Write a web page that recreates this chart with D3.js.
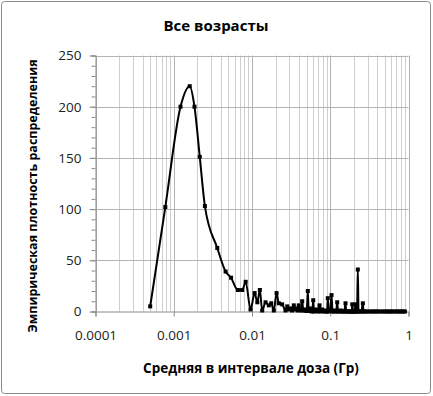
<!DOCTYPE html>
<html><head><meta charset="utf-8">
<script src="https://cdn.jsdelivr.net/npm/d3@7"></script>
<style>
html,body{margin:0;padding:0;background:#fff;}
svg{display:block;}
</style></head>
<body>
<script>
const title = "Все возрасты";
const xTitle = "Средняя в интервале доза (Гр)";
const yTitle = "Эмпирическая плотность распределения";
const xTickValues = [0.0001, 0.001, 0.01, 0.1, 1];
const xTickLabels = ["0.0001", "0.001", "0.01", "0.1", "1"];
const yTickValues = [0, 50, 100, 150, 200, 250];

const doses = [
  0.0005, 0.00078, 0.00122, 0.0016, 0.00184, 0.00215, 0.0025, 0.0036, 0.0046, 0.0054, 0.0066,
  0.0075, 0.0083, 0.0096, 0.0108, 0.0117, 0.0126, 0.0135, 0.0149, 0.0164, 0.0176,
  0.019, 0.0206, 0.022, 0.0243, 0.0268, 0.0282, 0.0295, 0.031, 0.0325, 0.0342,
  0.0356, 0.0371, 0.0383, 0.0396, 0.041, 0.0424, 0.0438, 0.0453, 0.0469, 0.0485,
  0.05, 0.0517, 0.053, 0.0548, 0.0563, 0.058, 0.0593, 0.0606, 0.062, 0.0643,
  0.0667, 0.069, 0.071, 0.0729, 0.075, 0.077, 0.0789, 0.082, 0.085, 0.088,
  0.091, 0.093, 0.096, 0.1, 0.1038, 0.107, 0.111, 0.115, 0.119, 0.1227,
  0.126, 0.131, 0.136, 0.141, 0.146, 0.151, 0.1567, 0.16, 0.166, 0.172,
  0.178, 0.184, 0.188, 0.191, 0.196, 0.2, 0.205, 0.21, 0.215, 0.22,
  0.225, 0.23, 0.24, 0.25, 0.261, 0.266, 0.275, 0.29, 0.31, 0.33,
  0.35, 0.37, 0.39, 0.41, 0.44, 0.47, 0.5, 0.53, 0.56, 0.59,
  0.62, 0.66, 0.7, 0.74, 0.78, 0.82, 0.86, 0.9
];
const density = [
  5, 102, 200, 220, 200, 151, 103, 62, 39, 33, 21,
  21, 29, 2, 18, 9, 21, 1, 9, 6, 8,
  1, 18, 8, 7, 1, 5, 2, 3, 1, 6,
  2, 3, 1, 6, 2, 1, 10, 1, 2, 1,
  0.5, 20, 0.5, 3, 1, 0, 2, 11, 0, 1,
  2, 0, 1, 6, 0, 1, 2, 0, 1, 0,
  0, 13, 0, 1, 16, 0, 0, 1, 0, 9,
  0, 0, 1, 0, 0, 0, 8, 0, 0, 0,
  0, 0, 0, 7, 0, 0, 0, 7, 0, 0,
  41, 0, 0, 0, 8, 0, 0, 0, 0, 0,
  0, 0, 0, 0, 0, 0, 0, 0, 0, 0,
  0, 0, 0, 0, 0, 0, 0, 0
];

const W = 433, H = 396;
const svg = d3.select("body").append("svg").attr("width", W).attr("height", H);

// outer border
svg.append("rect").attr("x", 1.5).attr("y", 1.5).attr("width", W - 4).attr("height", H - 4)
  .attr("rx", 3).attr("fill", "#fff").attr("stroke", "#8a8a8a").attr("stroke-width", 1);

const x = d3.scaleLog().domain([0.0001, 1]).range([95.5, 408.5]);
const y = d3.scaleLinear().domain([0, 250]).range([311.5, 55.5]);

const font = "'Open Sans', 'DejaVu Sans', sans-serif";

// minor vertical gridlines
const minorX = [];
for (let e = -4; e < 0; e++) for (let m = 2; m <= 9; m++) minorX.push(m * Math.pow(10, e));
svg.append("g").selectAll("line").data(minorX).join("line")
  .attr("x1", d => Math.round(x(d)) + 0.5).attr("x2", d => Math.round(x(d)) + 0.5)
  .attr("y1", y(250)).attr("y2", y(0))
  .attr("stroke", "#cfcfcf").attr("stroke-width", 1);
// major vertical gridlines
svg.append("g").selectAll("line").data(xTickValues).join("line")
  .attr("x1", d => Math.round(x(d)) + 0.5).attr("x2", d => Math.round(x(d)) + 0.5)
  .attr("y1", y(250)).attr("y2", y(0))
  .attr("stroke", "#b3b3b3").attr("stroke-width", 1);
// horizontal gridlines
svg.append("g").selectAll("line").data(yTickValues.slice(1)).join("line")
  .attr("x1", x(0.0001)).attr("x2", x(1))
  .attr("y1", d => Math.round(y(d)) + 0.5).attr("y2", d => Math.round(y(d)) + 0.5)
  .attr("stroke", "#b3b3b3").attr("stroke-width", 1);

// y axis
const yMinor = d3.range(0, 251, 10);
const yAxis = d3.axisLeft(y).tickValues(yMinor).tickSize(4).tickFormat("");
const yg = svg.append("g").attr("transform", `translate(${x(0.0001)},0)`).call(yAxis);
yg.selectAll("path,line").attr("stroke", "#8a8a8a");
const yAxisMajor = d3.axisLeft(y).tickValues(yTickValues).tickSize(6).tickPadding(8);
const yg2 = svg.append("g").attr("transform", `translate(${x(0.0001)},0)`).call(yAxisMajor);
yg2.select(".domain").remove();
yg2.selectAll("line").attr("stroke", "#8a8a8a");
yg2.selectAll("text").attr("font-family", font).attr("font-size", 13.5).attr("fill", "#222");

// x axis
const xAxis = d3.axisBottom(x).tickValues(xTickValues).tickFormat((d, i) => xTickLabels[i])
  .tickSize(5).tickPadding(14);
const xg = svg.append("g").attr("transform", `translate(0,${y(0)})`).call(xAxis);
xg.selectAll("path,line").attr("stroke", "#8a8a8a");
xg.selectAll("text").attr("font-family", font).attr("font-size", 13.5).attr("fill", "#222");

// data line
const pts = doses.map((d, i) => [d, density[i]]);
const line = d3.line().x(d => x(d[0])).y(d => y(d[1])).curve(d3.curveMonotoneX);
svg.append("path").datum(pts).attr("d", line)
  .attr("fill", "none").attr("stroke", "#000").attr("stroke-width", 2).attr("stroke-linejoin", "round");
svg.append("g").selectAll("rect").data(pts).join("rect")
  .attr("x", d => x(d[0]) - 2).attr("y", d => y(d[1]) - 2)
  .attr("width", 4).attr("height", 4).attr("fill", "#000");

// titles
svg.append("text").attr("x", 216).attr("y", 31).attr("text-anchor", "middle")
  .attr("font-family", font).attr("font-weight", "bold").attr("font-size", 15).text(title);
svg.append("text").attr("x", 251).attr("y", 373).attr("text-anchor", "middle")
  .attr("font-family", font).attr("font-weight", "bold").attr("font-size", 13.5).text(xTitle);
svg.append("text").attr("transform", "translate(37,196) rotate(-90)").attr("text-anchor", "middle")
  .attr("font-family", font).attr("font-weight", "bold").attr("font-size", 12.5).text(yTitle);
</script>
</body></html>
